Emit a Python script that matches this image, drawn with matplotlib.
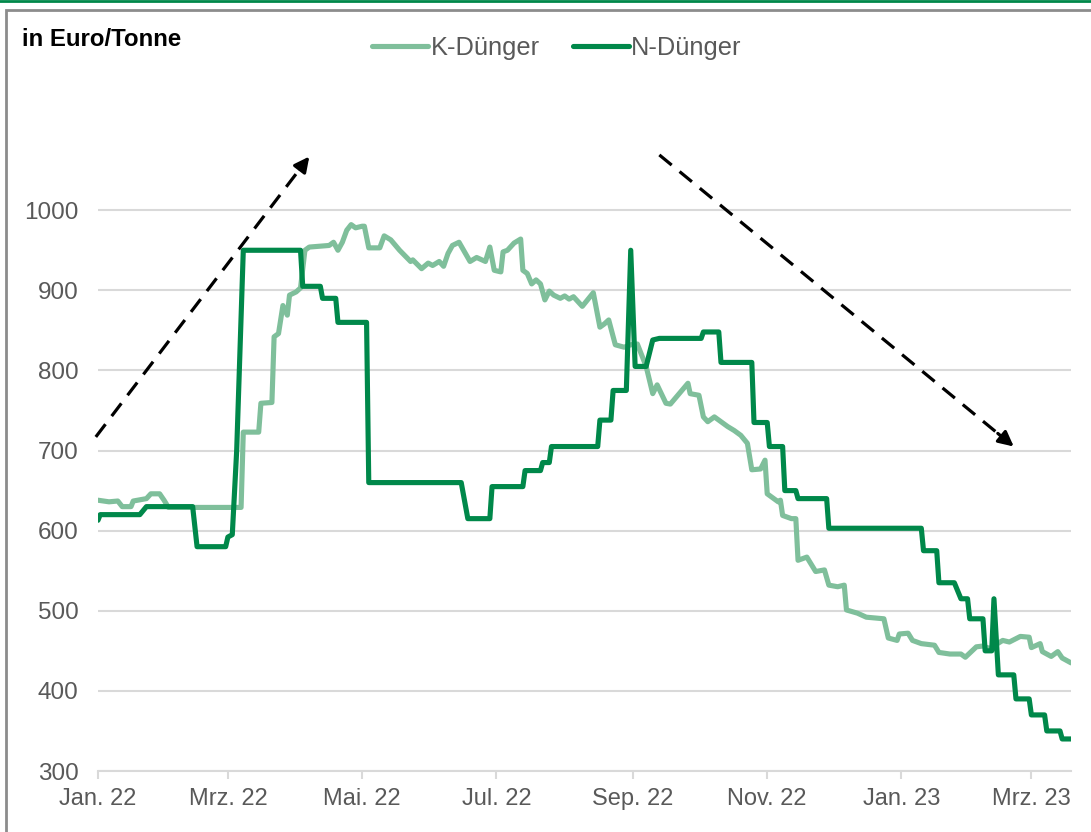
import matplotlib
matplotlib.use("Agg")
import matplotlib.pyplot as plt
import matplotlib.dates as mdates
import numpy as np
import pandas as pd
from matplotlib.patches import Rectangle
from matplotlib.lines import Line2D

# ---------------- data ----------------
k_dates = ["2022-01-01","2022-01-06","2022-01-10","2022-01-12","2022-01-16","2022-01-17","2022-01-23",
           "2022-01-25","2022-01-29","2022-01-31","2022-02-02","2022-03-07","2022-03-08","2022-03-15",
           "2022-03-16","2022-03-21","2022-03-22","2022-03-24","2022-03-26","2022-03-28","2022-03-29",
           "2022-04-01","2022-04-03","2022-04-05","2022-04-07","2022-04-16","2022-04-18","2022-04-20",
           "2022-04-22","2022-04-24","2022-04-26","2022-04-28","2022-05-01","2022-05-02","2022-05-04",
           "2022-05-09","2022-05-11","2022-05-14","2022-05-18","2022-05-23","2022-05-24","2022-05-28",
           "2022-05-31","2022-06-02","2022-06-05","2022-06-07","2022-06-09","2022-06-11","2022-06-14",
           "2022-06-19","2022-06-22","2022-06-26","2022-06-28","2022-06-30","2022-07-03","2022-07-04",
           "2022-07-06","2022-07-09","2022-07-12","2022-07-13","2022-07-15","2022-07-17","2022-07-19",
           "2022-07-21","2022-07-23","2022-07-25","2022-07-27","2022-07-30","2022-08-01","2022-08-03",
           "2022-08-05","2022-08-09","2022-08-14","2022-08-17","2022-08-19","2022-08-21","2022-08-24",
           "2022-08-28","2022-08-31","2022-09-03","2022-09-07","2022-09-10","2022-09-12","2022-09-16",
           "2022-09-18","2022-09-22","2022-09-26","2022-09-27","2022-10-01","2022-10-03","2022-10-05",
           "2022-10-08","2022-10-12","2022-10-14","2022-10-17","2022-10-20","2022-10-23","2022-10-25",
           "2022-10-29","2022-10-31","2022-11-01","2022-11-06","2022-11-07","2022-11-08","2022-11-12",
           "2022-11-14","2022-11-15","2022-11-19","2022-11-23","2022-11-27","2022-11-29","2022-12-03",
           "2022-12-06","2022-12-07","2022-12-12","2022-12-16","2022-12-24","2022-12-26","2022-12-30",
           "2022-12-31","2023-01-04","2023-01-06","2023-01-10","2023-01-16","2023-01-18","2023-01-23",
           "2023-01-28","2023-01-30","2023-02-04","2023-02-07","2023-02-10","2023-02-16","2023-02-19",
           "2023-02-24","2023-02-28","2023-03-01","2023-03-05","2023-03-06","2023-03-10","2023-03-13",
           "2023-03-15","2023-03-19"]
k_values = [638,636,637,630,630,637,640,
            646,646,638,629,629,723,723,
            759,760,842,846,881,869,894,
            898,903,950,954,956,960,950,
            960,975,982,978,980,980,953,
            953,968,963,950,936,938,927,
            934,931,936,930,946,956,960,
            936,941,936,954,925,923,948,
            950,959,964,925,921,908,913,
            908,888,899,894,890,893,889,
            892,880,897,854,858,863,832,
            829,832,833,805,771,782,759,
            758,771,784,771,769,742,736,
            742,734,730,725,719,709,676,
            677,688,646,636,638,619,615,
            615,563,567,549,551,532,530,
            532,501,497,492,490,466,463,
            471,472,463,459,457,448,446,
            446,442,455,456,453,463,461,
            468,467,454,459,449,443,449,
            441,435]

n_dates = ["2022-01-01","2022-01-02","2022-01-20","2022-01-23","2022-02-13","2022-02-15","2022-02-28",
           "2022-03-01","2022-03-03","2022-03-05","2022-03-08","2022-04-03","2022-04-04","2022-04-12",
           "2022-04-13","2022-04-19","2022-04-20","2022-05-03","2022-05-04","2022-06-15","2022-06-18",
           "2022-06-28","2022-06-29","2022-07-13","2022-07-14","2022-07-21","2022-07-22","2022-07-25",
           "2022-07-26","2022-08-16","2022-08-17","2022-08-22","2022-08-23","2022-08-29","2022-08-31",
           "2022-09-02","2022-09-07","2022-09-10","2022-09-13","2022-10-02","2022-10-03","2022-10-10",
           "2022-10-11","2022-10-25","2022-10-26","2022-11-01","2022-11-02","2022-11-08","2022-11-09",
           "2022-11-14","2022-11-15","2022-11-28","2022-11-29","2023-01-10","2023-01-11","2023-01-17",
           "2023-01-18","2023-01-25","2023-01-28","2023-01-31","2023-02-01","2023-02-07","2023-02-08",
           "2023-02-11","2023-02-12","2023-02-14","2023-02-21","2023-02-22","2023-02-28","2023-03-01",
           "2023-03-07","2023-03-08","2023-03-14","2023-03-15","2023-03-19"]
n_values = [613,620,620,630,630,580,580,
            592,595,700,950,950,905,905,
            890,890,860,860,660,660,615,
            615,655,655,675,675,685,685,
            705,705,738,738,775,775,950,
            805,805,838,840,840,848,848,
            810,810,735,735,705,705,650,
            650,640,640,603,603,575,575,
            535,535,515,515,490,490,450,
            450,515,420,420,390,390,370,
            370,350,350,340,340]

tick_dates = ["2022-01-01","2022-03-01","2022-05-01","2022-07-01","2022-09-01","2022-11-01","2023-01-01","2023-03-01"]
tick_labels = ["Jan. 22","Mrz. 22","Mai. 22","Jul. 22","Sep. 22","Nov. 22","Jan. 23","Mrz. 23"]
y_ticks = [300,400,500,600,700,800,900,1000]

series_names = ["K-Dünger", "N-Dünger"]

# arrow annotations (start, end)
arrow_up = (("2021-12-31", 717), ("2022-04-07", 1067))
arrow_down = (("2022-09-13", 1069), ("2023-02-21", 705))

# ---------------- style ----------------
K_COLOR = "#7fbf9b"
N_COLOR = "#00884a"
GRID = "#d9d9d9"
TXT = "#595959"

plt.rcParams['font.family'] = ['Liberation Sans', 'DejaVu Sans']

fig = plt.figure(figsize=(10.91, 8.32), dpi=100)
W, H = 1091, 832
ax = fig.add_axes([98/W, (H-771)/H, (1071-98)/W, (771-66)/H])

kd = pd.to_datetime(k_dates)
nd = pd.to_datetime(n_dates)

ax.plot(kd, k_values, color=K_COLOR, lw=3.7, solid_joinstyle='round', solid_capstyle='round', zorder=3)
ax.plot(nd, n_values, color=N_COLOR, lw=3.7, solid_joinstyle='round', solid_capstyle='round', zorder=4)

ax.set_ylim(300, 1180)
ax.set_xlim(pd.Timestamp("2022-01-01"), pd.Timestamp("2023-03-19"))
ax.set_yticks(y_ticks)
ax.set_yticklabels([str(v) for v in y_ticks])
ax.set_xticks(pd.to_datetime(tick_dates))
ax.set_xticklabels(tick_labels)

for s in ["top", "right", "left"]:
    ax.spines[s].set_visible(False)
ax.spines["bottom"].set_color(GRID)
ax.spines["bottom"].set_linewidth(1.5)
ax.yaxis.grid(True, color=GRID, lw=1.5)
ax.set_axisbelow(True)
ax.tick_params(axis='y', length=0, pad=14, labelsize=17.5, labelcolor=TXT)
ax.tick_params(axis='x', length=6, width=1.5, color=GRID, pad=6, labelsize=17, labelcolor=TXT)

# arrows
def draw_arrow(a):
    (d0, v0), (d1, v1) = a
    x0 = mdates.date2num(pd.Timestamp(d0)); x1 = mdates.date2num(pd.Timestamp(d1))
    xm = x1 - (x1 - x0) * 0.045
    vm = v1 - (v1 - v0) * 0.045
    ax.plot([x0, xm], [v0, vm], color='black', lw=2.3, ls=(0, (5, 3.2)), clip_on=False, zorder=5)
    ax.annotate('', xy=(x1, v1), xytext=(xm, vm),
                arrowprops=dict(arrowstyle='-|>,head_length=0.9,head_width=0.45', color='black', lw=2.3,
                                shrinkA=0, shrinkB=0), annotation_clip=False, zorder=5)

draw_arrow(arrow_up)
draw_arrow(arrow_down)

# legend
handles = [Line2D([0], [0], color=K_COLOR, lw=3.7, solid_capstyle='round'),
           Line2D([0], [0], color=N_COLOR, lw=3.7, solid_capstyle='round')]
leg = fig.legend(handles, series_names, loc='center', bbox_to_anchor=(557/W, 1-48/H), ncol=2,
                 frameon=False, fontsize=18.3, handlelength=2.2, handletextpad=0.1, columnspacing=1.3)
for t in leg.get_texts():
    t.set_color(TXT)

fig.text(22/W, 1-40/H, "in Euro/Tonne", fontsize=17.3, fontweight='bold', color='black', va='center', ha='left')

# frame and top line
fig.patches.append(Rectangle((6/W, -0.1), 1.2, 1 - 10/H + 0.1, transform=fig.transFigure,
                             fill=False, edgecolor='#8c8c8c', lw=2, zorder=0))
fig.lines.append(Line2D([0, 1], [1 - 1/H, 1 - 1/H], transform=fig.transFigure, color=N_COLOR, lw=2))

fig.savefig("out.png", dpi=100)
